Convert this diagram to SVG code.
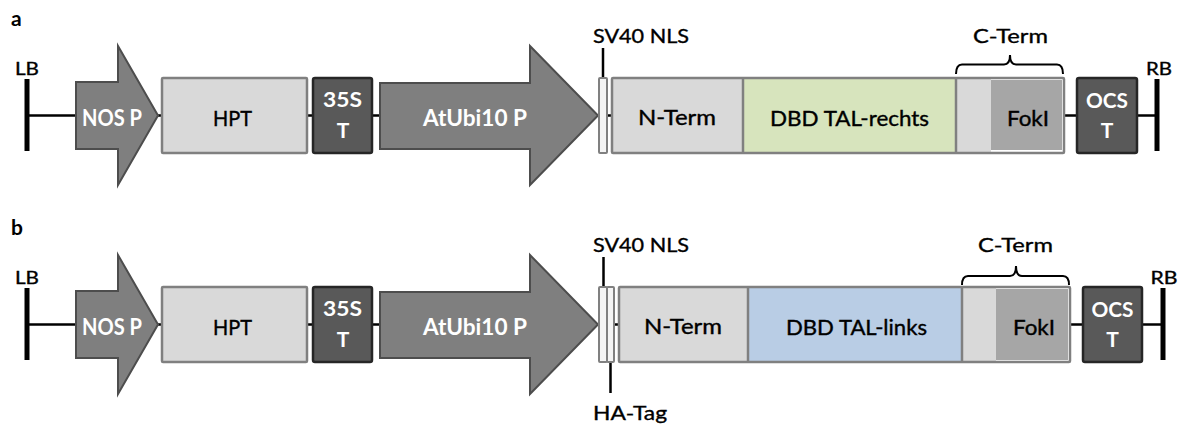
<svg xmlns="http://www.w3.org/2000/svg" width="1181" height="426" viewBox="0 0 1181 426">
<style>
text{font-family:Lato,"Liberation Sans",sans-serif;text-anchor:middle}
.lbl{font-size:19.5px;fill:#000;stroke:#000;stroke-width:0.35}
.in{font-size:22px;fill:#000;stroke:#000;stroke-width:0.4}
.wh{font-size:21px;font-weight:bold;fill:#fff}
.whb{font-size:22px;font-weight:bold;fill:#fff}
.pl{font-size:21px;font-weight:bold;fill:#000;text-anchor:start}
.arrow{fill:#7f7f7f;stroke:#4d4d4d;stroke-width:2;stroke-linejoin:miter}
.lt{fill:#d9d9d9;stroke:#808080;stroke-width:2.5}
.dk{fill:#595959;stroke:#262626;stroke-width:2.5}
.nls{fill:#f4f4f4;stroke:#808080;stroke-width:2}
.outer{fill:none;stroke:#808080;stroke-width:2.5}
.div{stroke:#808080;stroke-width:2.5}
.ln{stroke:#000;stroke-width:2.5;fill:none}
.bar{stroke:#000;stroke-width:5}
.brace{stroke:#000;stroke-width:2;fill:none}
</style>

<text class="pl" x="11" y="26">a</text>
<text class="pl" x="11" y="235">b</text>

<g id="connectors">
  <line class="ln" x1="27" y1="115.5" x2="77" y2="115.5"/>
  <line class="ln" x1="157" y1="115.5" x2="163" y2="115.5"/>
  <line class="ln" x1="306" y1="115.5" x2="314" y2="115.5"/>
  <line class="ln" x1="371" y1="115.5" x2="381" y2="115.5"/>
  <line class="ln" x1="606" y1="115.5" x2="613" y2="115.5"/>
  <line class="ln" x1="1063" y1="115.5" x2="1078" y2="115.5"/>
  <line class="ln" x1="1136" y1="115.5" x2="1157" y2="115.5"/>
  <line class="ln" x1="603" y1="48" x2="603" y2="78"/>

  <line class="ln" x1="27" y1="324.5" x2="77" y2="324.5"/>
  <line class="ln" x1="157" y1="324.5" x2="163" y2="324.5"/>
  <line class="ln" x1="306" y1="324.5" x2="314" y2="324.5"/>
  <line class="ln" x1="371" y1="324.5" x2="381" y2="324.5"/>
  <line class="ln" x1="614" y1="324.5" x2="619" y2="324.5"/>
  <line class="ln" x1="1069" y1="324.5" x2="1084" y2="324.5"/>
  <line class="ln" x1="1141" y1="324.5" x2="1163" y2="324.5"/>
  <line class="ln" x1="603.5" y1="257" x2="603.5" y2="287"/>
  <line class="ln" x1="610.5" y1="362" x2="610.5" y2="393"/>
</g>

<!-- Row a -->
<g id="a-LB">
  <line class="bar" x1="27" y1="79" x2="27" y2="151"/>
  <text class="lbl" x="27" y="75" textLength="24" lengthAdjust="spacingAndGlyphs" style="font-size:17.5px">LB</text>
</g>
<g id="a-NOSP">
  <polygon class="arrow" points="76,82 118,82 118,46 158,115.5 118,185 118,149 76,149"/>
  <text class="whb" x="112" y="126" textLength="60" lengthAdjust="spacingAndGlyphs">NOS P</text>
</g>
<g id="a-HPT">
  <rect class="lt" x="162" y="78" width="145" height="75" rx="1"/>
  <text class="in" x="232.5" y="125.5" textLength="39" lengthAdjust="spacingAndGlyphs">HPT</text>
</g>
<g id="a-35ST">
  <rect class="dk" x="313" y="78" width="59" height="75" rx="2"/>
  <text class="wh" x="342.5" y="107" textLength="39" lengthAdjust="spacingAndGlyphs">35S</text>
  <text class="wh" x="343" y="138">T</text>
</g>
<g id="a-AtUbi10P">
  <polygon class="arrow" points="380,83 530,83 530,46 598,115.5 530,185 530,149 380,149"/>
  <text class="whb" x="475" y="125.5" textLength="104" lengthAdjust="spacingAndGlyphs">AtUbi10 P</text>
</g>
<g id="a-SV40NLS">
  <rect class="nls" x="599" y="78" width="8" height="75" rx="1"/>
  <text class="lbl" x="641" y="43" textLength="96" lengthAdjust="spacingAndGlyphs">SV40 NLS</text>
</g>
<g id="a-fusion">
  <rect x="612" y="78" width="131" height="75" fill="#d9d9d9"/>
  <rect x="743" y="78" width="213" height="75" fill="#d7e4bd"/>
  <rect x="956" y="78" width="35" height="75" fill="#d9d9d9"/>
  <rect x="991" y="80" width="71" height="70" fill="#a6a6a6"/>
  <line class="div" x1="743" y1="78" x2="743" y2="153"/>
  <line class="div" x1="956" y1="78" x2="956" y2="153"/>
  <rect class="outer" x="612" y="78" width="452" height="75" rx="1"/>
  <text class="in" x="677" y="124.5" textLength="78" lengthAdjust="spacingAndGlyphs">N-Term</text>
  <text class="in" x="849.5" y="125.5" textLength="159" lengthAdjust="spacingAndGlyphs">DBD TAL-rechts</text>
  <text class="in" x="1028" y="125.5" textLength="42" lengthAdjust="spacingAndGlyphs">FokI</text>
</g>
<g id="a-CTerm">
  <path class="brace" d="M956,74 Q956,64.5 962,64.5 H1004 Q1010,64.5 1010,55 Q1010,64.5 1016,64.5 H1057 Q1063,64.5 1063,74"/>
  <text class="lbl" x="1010.5" y="43" textLength="75" lengthAdjust="spacingAndGlyphs">C-Term</text>
</g>
<g id="a-OCST">
  <rect class="dk" x="1077" y="78" width="60" height="75" rx="2"/>
  <text class="wh" x="1107" y="108" textLength="42" lengthAdjust="spacingAndGlyphs">OCS</text>
  <text class="wh" x="1107" y="137.5">T</text>
</g>
<g id="a-RB">
  <line class="bar" x1="1157" y1="79" x2="1157" y2="151"/>
  <text class="lbl" x="1159" y="75" textLength="26" lengthAdjust="spacingAndGlyphs" style="font-size:17.5px">RB</text>
</g>

<!-- Row b -->
<g id="b-LB">
  <line class="bar" x1="27" y1="288" x2="27" y2="360"/>
  <text class="lbl" x="27" y="284" textLength="24" lengthAdjust="spacingAndGlyphs" style="font-size:17.5px">LB</text>
</g>
<g id="b-NOSP">
  <polygon class="arrow" points="76,291 118,291 118,255 158,324.5 118,394 118,358 76,358"/>
  <text class="whb" x="112" y="335" textLength="60" lengthAdjust="spacingAndGlyphs">NOS P</text>
</g>
<g id="b-HPT">
  <rect class="lt" x="162" y="287" width="145" height="75" rx="1"/>
  <text class="in" x="232.5" y="334.5" textLength="39" lengthAdjust="spacingAndGlyphs">HPT</text>
</g>
<g id="b-35ST">
  <rect class="dk" x="313" y="287" width="59" height="75" rx="2"/>
  <text class="wh" x="342.5" y="316" textLength="39" lengthAdjust="spacingAndGlyphs">35S</text>
  <text class="wh" x="343" y="347">T</text>
</g>
<g id="b-AtUbi10P">
  <polygon class="arrow" points="380,292 530,292 530,255 598,324.5 530,394 530,358 380,358"/>
  <text class="whb" x="475" y="334.5" textLength="104" lengthAdjust="spacingAndGlyphs">AtUbi10 P</text>
</g>
<g id="b-SV40NLS">
  <rect class="nls" x="599" y="287" width="8" height="75" rx="1"/>
  <text class="lbl" x="641" y="252" textLength="96" lengthAdjust="spacingAndGlyphs">SV40 NLS</text>
</g>
<g id="b-HATag">
  <rect class="nls" x="607" y="287" width="7" height="75" rx="1"/>
  <text class="lbl" x="630" y="420" textLength="74" lengthAdjust="spacingAndGlyphs">HA-Tag</text>
</g>
<g id="b-fusion">
  <rect x="619" y="287" width="129" height="75" fill="#d9d9d9"/>
  <rect x="748" y="287" width="214" height="75" fill="#b9cde5"/>
  <rect x="962" y="287" width="34" height="75" fill="#d9d9d9"/>
  <rect x="996" y="289" width="72" height="71" fill="#a6a6a6"/>
  <line class="div" x1="748" y1="287" x2="748" y2="362"/>
  <line class="div" x1="962" y1="287" x2="962" y2="362"/>
  <rect class="outer" x="619" y="287" width="451" height="75" rx="1"/>
  <text class="in" x="683" y="333.5" textLength="78" lengthAdjust="spacingAndGlyphs">N-Term</text>
  <text class="in" x="856.5" y="334.5" textLength="141" lengthAdjust="spacingAndGlyphs">DBD TAL-links</text>
  <text class="in" x="1034" y="334.5" textLength="42" lengthAdjust="spacingAndGlyphs">FokI</text>
</g>
<g id="b-CTerm">
  <path class="brace" d="M962,285 Q962,276 968,276 H1010 Q1016,276 1016,266 Q1016,276 1022,276 H1063 Q1069,276 1069,285"/>
  <text class="lbl" x="1015.5" y="252" textLength="75" lengthAdjust="spacingAndGlyphs">C-Term</text>
</g>
<g id="b-OCST">
  <rect class="dk" x="1083" y="287" width="59" height="75" rx="2"/>
  <text class="wh" x="1112.5" y="317" textLength="42" lengthAdjust="spacingAndGlyphs">OCS</text>
  <text class="wh" x="1112.5" y="346.5">T</text>
</g>
<g id="b-RB">
  <line class="bar" x1="1163" y1="288" x2="1163" y2="360"/>
  <text class="lbl" x="1164" y="284" textLength="27" lengthAdjust="spacingAndGlyphs" style="font-size:17.5px">RB</text>
</g>
</svg>
